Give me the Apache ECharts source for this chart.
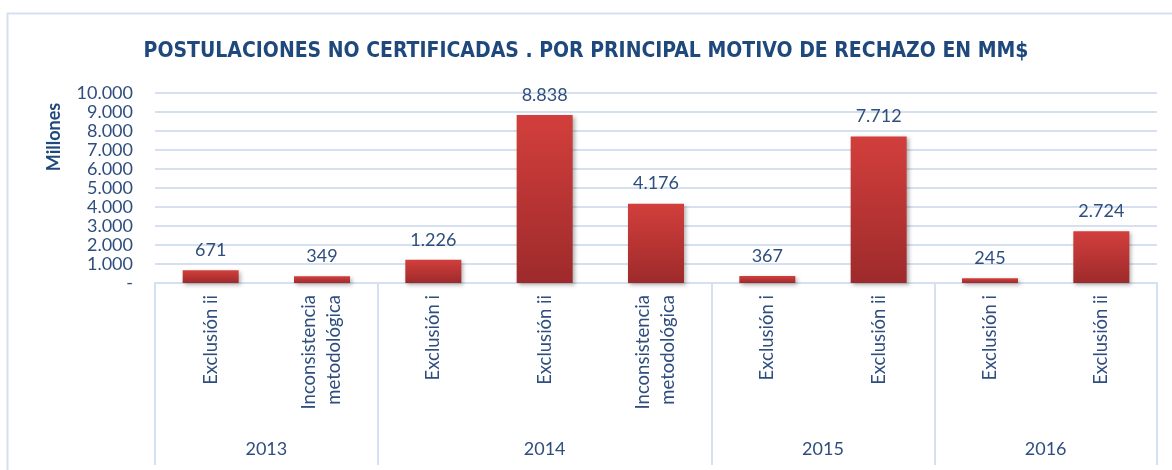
<!DOCTYPE html>
<html>
<head>
<meta charset="utf-8">
<script src="https://cdn.jsdelivr.net/npm/echarts@6/dist/echarts.min.js"></script>
<style>
  html, body { margin: 0; padding: 0; background: #fff; }
  #chart { width: 1172px; height: 470px; }
</style>
</head>
<body>
<div id="chart"></div>
<script>
// data
var categories = ['Exclusión ii', 'Inconsistencia\nmetodológica', 'Exclusión i', 'Exclusión ii',
  'Inconsistencia\nmetodológica', 'Exclusión i', 'Exclusión ii', 'Exclusión i', 'Exclusión ii'];
var values = [671, 349, 1226, 8838, 4176, 367, 7712, 245, 2724];
var years = ['2013', '2014', '2015', '2016'];
var groupSizes = [2, 3, 2, 2];

// group borders and centres on a 0..9 scale
var groupEdges = [0];
var groupCentres = [];
groupSizes.forEach(function (n) {
  var start = groupEdges[groupEdges.length - 1];
  groupCentres.push(start + n / 2);
  groupEdges.push(start + n);
});

var textColor = '#2f4e7e';
var lineColor = '#d5e1f0';
var font = 'Lato, "Open Sans", sans-serif';

function fmt(v) {
  if (v === 0) return '-';
  return String(v).replace(/\B(?=(\d{3})+(?!\d))/g, '.');
}

var myechart = echarts.init(document.getElementById('chart'), null, { renderer: 'canvas' });

var option = {
  backgroundColor: '#fff',
  animation: false,
  title: {
    text: 'POSTULACIONES NO CERTIFICADAS . POR PRINCIPAL MOTIVO DE RECHAZO EN MM$',
    left: 'center',
    top: 36,
    textStyle: {
      fontFamily: '"Liberation Sans Narrow", "DejaVu Sans Condensed", sans-serif',
      fontWeight: 'bold',
      fontSize: 21,
      color: '#1f497d'
    }
  },
  graphic: [
    {
      type: 'rect',
      shape: { x: 7.5, y: 13.5, width: 1200, height: 500 },
      style: { fill: 'none', stroke: lineColor, lineWidth: 2 },
      silent: true
    },
    {
      type: 'text',
      x: 54,
      y: 137,
      rotation: Math.PI / 2,
      style: {
        text: 'Millones',
        fill: '#1f497d',
        font: 'bold 18px ' + font,
        align: 'center',
        verticalAlign: 'middle'
      }
    }
  ],
  grid: { left: 155, right: 15, top: 93, bottom: 187, containLabel: false },
  xAxis: [
    {
      type: 'category',
      data: categories,
      axisLine: { lineStyle: { color: lineColor, width: 2 } },
      axisTick: { show: false },
      axisLabel: {
        rotate: 90,
        margin: 12,
        interval: 0,
        fontFamily: font,
        fontSize: 18.5,
        lineHeight: 25,
        color: textColor
      }
    },
    {
      type: 'value',
      position: 'bottom',
      min: 0,
      max: categories.length,
      splitLine: { show: false },
      axisLine: { show: false },
      axisTick: {
        show: true,
        customValues: groupEdges,
        length: 182,
        lineStyle: { color: lineColor, width: 2 }
      },
      axisLabel: {
        customValues: groupCentres,
        margin: 157,
        fontFamily: font,
        fontSize: 18,
        color: textColor,
        formatter: function (v) {
          var i = groupCentres.indexOf(v);
          return i >= 0 ? years[i] : '';
        }
      }
    }
  ],
  yAxis: {
    type: 'value',
    min: 0,
    max: 10000,
    interval: 1000,
    axisLine: { show: false },
    axisTick: { show: false },
    splitLine: { lineStyle: { color: lineColor, width: 2 } },
    axisLabel: {
      margin: 22,
      fontFamily: font,
      fontSize: 18,
      color: textColor,
      formatter: fmt
    }
  },
  series: [
    {
      type: 'bar',
      xAxisIndex: 0,
      data: values,
      barWidth: 56,
      itemStyle: {
        color: new echarts.graphic.LinearGradient(0, 0, 0, 1, [
          { offset: 0, color: '#d23f3c' },
          { offset: 1, color: '#9e2a2b' }
        ]),
        shadowBlur: 4,
        shadowOffsetX: 2,
        shadowOffsetY: 2,
        shadowColor: 'rgba(0,0,0,0.3)'
      },
      label: {
        show: true,
        position: 'top',
        distance: 11,
        fontFamily: font,
        fontSize: 18,
        color: textColor,
        formatter: function (p) { return fmt(p.value); }
      }
    }
  ]
};

myechart.setOption(option);
</script>
</body>
</html>
